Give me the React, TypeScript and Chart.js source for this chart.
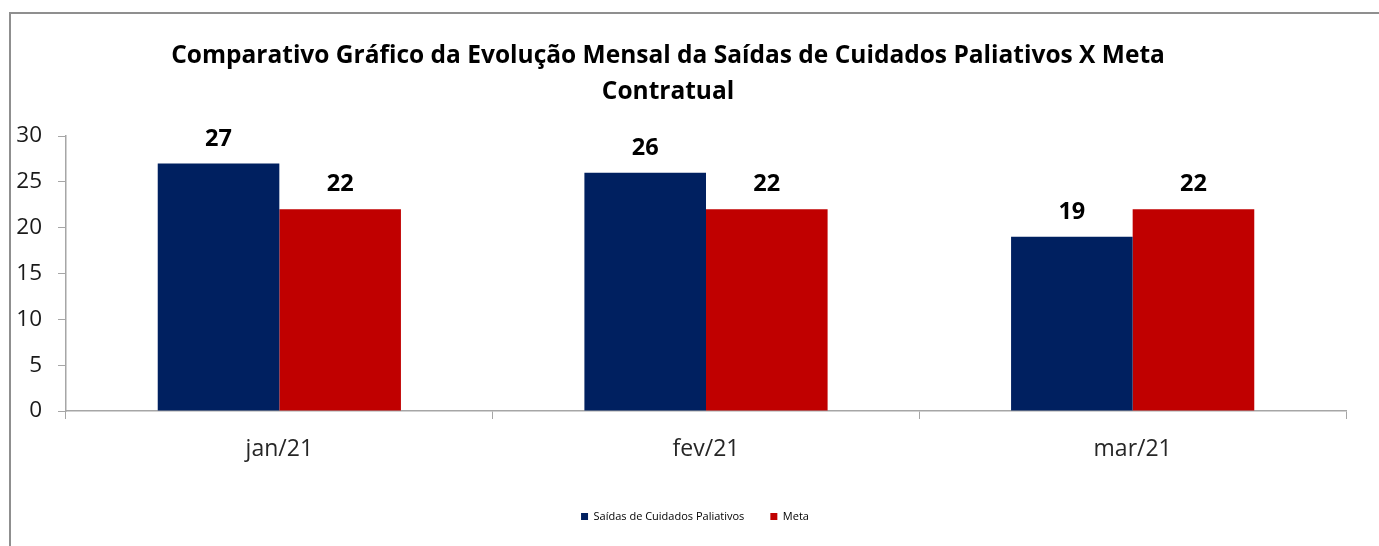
import React, { useEffect, useRef } from 'react';
import { Chart, registerables } from 'chart.js';

Chart.register(...registerables);

const titleLines = [
  'Comparativo Gráfico da Evolução Mensal da Saídas de Cuidados Paliativos X Meta',
  'Contratual',
];
const categories = ['jan/21', 'fev/21', 'mar/21'];
const seriesNames = ['Saídas de Cuidados Paliativos', 'Meta'];
const saidas = [27, 26, 19];
const meta = [22, 22, 22];
const yMin = 0;
const yMax = 30;
const yStep = 5;

const BLUE = '#002060';
const RED = '#C00000';
const AXIS = '#a6a6a6';
const FONT = "'Open Sans', sans-serif";

const valueLabels = {
  id: 'valueLabels',
  afterDatasetsDraw(chart: any) {
    const ctx = chart.ctx;
    ctx.save();
    ctx.font = `bold 23.5px ${FONT}`;
    ctx.fillStyle = '#000';
    ctx.textAlign = 'center';
    ctx.textBaseline = 'alphabetic';
    chart.data.datasets.forEach((ds: any, i: number) => {
      const meta = chart.getDatasetMeta(i);
      meta.data.forEach((el: any, j: number) => {
        ctx.fillText(String(ds.data[j]), el.x, el.y - 18);
      });
    });
    ctx.restore();
  },
};

const boxShift = {
  id: 'boxShift',
  afterLayout(chart: any) {
    if (chart.titleBlock) {
      chart.titleBlock.right -= 10;
    }
    if (chart.legend) {
      chart.legend.left += 22;
      chart.legend.right += 22;
    }
  },
};

export default function App() {
  const ref = useRef<HTMLCanvasElement | null>(null);
  useEffect(() => {
    if (!ref.current) return;
    const chart = new Chart(ref.current, {
      type: 'bar',
      data: {
        labels: categories,
        datasets: [
          {
            label: seriesNames[0],
            data: saidas,
            backgroundColor: BLUE,
            borderWidth: 0,
            categoryPercentage: 0.57,
            barPercentage: 1,
          },
          {
            label: seriesNames[1],
            data: meta,
            backgroundColor: RED,
            borderWidth: 0,
            categoryPercentage: 0.57,
            barPercentage: 1,
          },
        ],
      },
      options: {
        responsive: false,
        animation: false,
        layout: { padding: { left: 0, right: 33, top: 0, bottom: 14 } },
        plugins: {
          title: {
            display: true,
            text: titleLines,
            color: '#000',
            font: { family: FONT, size: 24.5, weight: 'bold', lineHeight: 36 / 24.5 },
            padding: { top: 38, bottom: 26 },
          },
          legend: {
            display: true,
            position: 'bottom',
            labels: {
              boxWidth: 7,
              boxHeight: 7,
              padding: 26,
              color: '#000',
              font: { family: FONT, size: 11 },
            },
          },
          tooltip: { enabled: false },
        },
        scales: {
          x: {
            grid: {
              display: true,
              drawOnChartArea: false,
              drawTicks: true,
              tickLength: 8,
              color: AXIS,
              offset: true,
            },
            border: { display: true, color: AXIS, width: 1.5 },
            ticks: {
              color: '#262626',
              font: { family: FONT, size: 23 },
              padding: 17,
            },
            afterFit: (scale: any) => {
              scale.height = 74;
            },
          },
          y: {
            min: yMin,
            max: yMax,
            ticks: {
              stepSize: yStep,
              color: '#1a1a1a',
              font: { family: FONT, size: 22.5 },
              padding: 16,
            },
            grid: {
              display: true,
              drawOnChartArea: false,
              drawTicks: true,
              tickLength: 8,
              color: AXIS,
            },
            border: { display: true, color: AXIS, width: 1.5 },
            afterFit: (scale: any) => {
              scale.width = 66;
            },
          },
        },
      },
      plugins: [valueLabels, boxShift],
    } as any);
    return () => chart.destroy();
  }, []);

  return (
    <div
      style={{
        position: 'fixed',
        left: 0,
        top: 0,
        width: 1379,
        height: 546,
        overflow: 'hidden',
        background: '#fff',
      }}
    >
      <div
        style={{
          position: 'absolute',
          left: 9,
          top: 12,
          width: 1500,
          height: 700,
          borderTop: '2px solid #8f8f8f',
          borderLeft: '2px solid #8f8f8f',
        }}
      />
      <canvas
        ref={ref}
        width={1379}
        height={546}
        style={{ position: 'absolute', left: 0, top: 0, width: 1379, height: 546 }}
      />
    </div>
  );
}
